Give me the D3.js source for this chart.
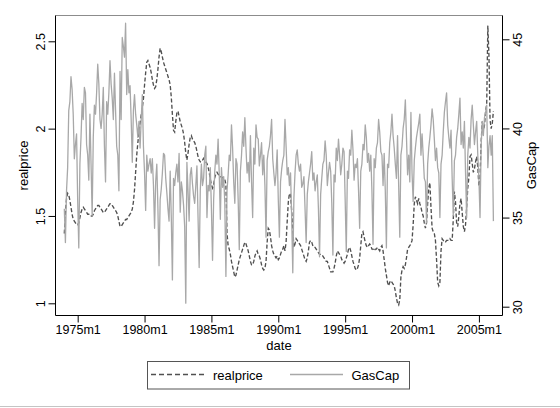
<!DOCTYPE html>
<html>
<head>
<meta charset="utf-8">
<script src="https://d3js.org/d3.v7.min.js"></script>
<style>
body { margin: 0; background: #fff; }
text { font-family: "Liberation Sans", Arial, Helvetica, sans-serif; fill: #000; }
</style>
</head>
<body>
<div id="chart"></div>
<script>

var width = 560;
var height = 408;

// monthly series, first observation 1974m1, last 2006m2
var startYear = 1974;

var realprice = [
  1.40, 1.52, 1.60, 1.63, 1.62, 1.59, 1.55, 1.51, 1.48, 1.47, 1.46, 1.45, // 1974
  1.45, 1.46, 1.49, 1.52, 1.54, 1.55, 1.54, 1.53, 1.52, 1.51, 1.51, 1.50, // 1975
  1.50, 1.50, 1.51, 1.53, 1.54, 1.55, 1.56, 1.56, 1.55, 1.54, 1.53, 1.52, // 1976
  1.52, 1.53, 1.54, 1.55, 1.56, 1.57, 1.57, 1.56, 1.55, 1.54, 1.53, 1.52, // 1977
  1.50, 1.47, 1.44, 1.44, 1.45, 1.46, 1.47, 1.48, 1.48, 1.49, 1.50, 1.51, // 1978
  1.52, 1.54, 1.58, 1.65, 1.75, 1.85, 1.92, 1.98, 2.03, 2.08, 2.12, 2.17, // 1979
  2.25, 2.32, 2.38, 2.39, 2.37, 2.35, 2.32, 2.28, 2.25, 2.23, 2.24, 2.28, // 1980
  2.34, 2.41, 2.46, 2.44, 2.41, 2.38, 2.36, 2.34, 2.32, 2.30, 2.28, 2.25, // 1981
  2.18, 2.08, 1.99, 1.98, 2.04, 2.09, 2.10, 2.07, 2.04, 2.02, 2.00, 1.97, // 1982
  1.92, 1.86, 1.82, 1.86, 1.91, 1.95, 1.96, 1.94, 1.93, 1.92, 1.90, 1.87, // 1983
  1.84, 1.82, 1.81, 1.82, 1.82, 1.83, 1.82, 1.81, 1.80, 1.78, 1.75, 1.71, // 1984
  1.68, 1.66, 1.68, 1.72, 1.74, 1.75, 1.74, 1.73, 1.73, 1.72, 1.72, 1.71, // 1985
  1.71, 1.68, 1.40, 1.33, 1.31, 1.28, 1.24, 1.21, 1.18, 1.15, 1.16, 1.19, // 1986
  1.22, 1.25, 1.27, 1.29, 1.31, 1.33, 1.35, 1.34, 1.32, 1.30, 1.27, 1.24, // 1987
  1.22, 1.22, 1.24, 1.27, 1.29, 1.30, 1.28, 1.27, 1.25, 1.22, 1.20, 1.19, // 1988
  1.20, 1.24, 1.35, 1.43, 1.42, 1.38, 1.33, 1.30, 1.28, 1.27, 1.26, 1.27, // 1989
  1.25, 1.26, 1.28, 1.30, 1.31, 1.33, 1.30, 1.35, 1.47, 1.58, 1.63, 1.62, // 1990
  1.53, 1.42, 1.32, 1.34, 1.37, 1.36, 1.35, 1.34, 1.33, 1.31, 1.29, 1.27, // 1991
  1.25, 1.24, 1.26, 1.30, 1.35, 1.36, 1.35, 1.33, 1.32, 1.32, 1.31, 1.30, // 1992
  1.29, 1.28, 1.28, 1.28, 1.27, 1.26, 1.25, 1.24, 1.24, 1.22, 1.20, 1.18, // 1993
  1.18, 1.18, 1.20, 1.23, 1.27, 1.30, 1.29, 1.28, 1.27, 1.25, 1.24, 1.23, // 1994
  1.24, 1.26, 1.28, 1.31, 1.32, 1.30, 1.27, 1.24, 1.22, 1.20, 1.19, 1.20, // 1995
  1.22, 1.26, 1.33, 1.40, 1.41, 1.38, 1.35, 1.33, 1.32, 1.33, 1.34, 1.33, // 1996
  1.31, 1.31, 1.30, 1.31, 1.31, 1.32, 1.31, 1.30, 1.32, 1.33, 1.30, 1.25, // 1997
  1.20, 1.16, 1.12, 1.10, 1.12, 1.13, 1.12, 1.11, 1.10, 1.07, 1.03, 1.00, // 1998
  0.99, 1.02, 1.15, 1.19, 1.21, 1.20, 1.22, 1.26, 1.31, 1.32, 1.33, 1.34, // 1999
  1.36, 1.45, 1.57, 1.61, 1.59, 1.57, 1.60, 1.57, 1.55, 1.52, 1.50, 1.46, // 2000
  1.43, 1.46, 1.57, 1.66, 1.69, 1.55, 1.43, 1.41, 1.40, 1.36, 1.25, 1.12, // 2001
  1.10, 1.12, 1.30, 1.37, 1.36, 1.35, 1.35, 1.36, 1.36, 1.36, 1.37, 1.36, // 2002
  1.36, 1.48, 1.64, 1.58, 1.46, 1.44, 1.50, 1.57, 1.60, 1.52, 1.44, 1.41, // 2003
  1.45, 1.55, 1.66, 1.72, 1.84, 1.85, 1.80, 1.75, 1.77, 1.81, 1.84, 1.78, // 2004
  1.67, 1.72, 1.92, 2.04, 1.99, 2.02, 2.10, 2.14, 2.59, 2.42, 2.05, 2.00, // 2005
  2.03, 2.10                                                              // 2006
];

var gascap = [
  35.5, 33.6, 36.5, 37.8, 41.0, 41.5, 42.9, 42.2, 40.8, 38.3, 39.1, 39.7, // 1974
  36.0, 33.3, 38.0, 39.5, 41.4, 40.5, 42.3, 42.0, 39.1, 38.5, 37.1, 40.8, // 1975
  38.0, 35.1, 39.5, 41.3, 40.8, 42.0, 43.6, 42.5, 40.5, 40.0, 40.8, 42.3, // 1976
  39.0, 37.0, 41.5, 40.8, 42.0, 43.8, 42.5, 41.7, 40.5, 43.1, 41.0, 39.0, // 1977
  38.5, 36.5, 43.2, 40.5, 45.1, 44.6, 44.0, 45.9, 41.9, 43.3, 42.0, 42.4, // 1978
  40.5, 38.1, 41.0, 41.9, 40.8, 40.2, 39.5, 40.4, 38.9, 40.5, 41.9, 39.0, // 1979
  37.5, 35.4, 38.5, 37.6, 38.0, 38.3, 37.5, 38.3, 36.8, 34.4, 37.0, 38.0, // 1980
  35.5, 32.3, 36.0, 36.6, 37.5, 38.6, 38.5, 37.2, 36.4, 35.5, 34.8, 37.6, // 1981
  35.0, 31.5, 37.2, 36.8, 37.5, 38.0, 37.0, 38.6, 35.3, 37.0, 36.5, 35.7, // 1982
  34.5, 30.2, 38.1, 36.5, 34.8, 37.4, 37.8, 36.9, 36.2, 35.8, 36.8, 37.9, // 1983
  35.0, 32.2, 36.5, 38.0, 36.8, 37.2, 38.5, 39.0, 35.0, 36.8, 36.5, 37.8, // 1984
  35.5, 32.6, 36.0, 37.6, 38.5, 38.0, 39.4, 37.5, 34.9, 37.8, 36.7, 37.3, // 1985
  35.8, 31.7, 36.5, 37.4, 38.5, 38.2, 40.2, 38.9, 37.0, 35.8, 38.3, 38.0, // 1986
  36.0, 33.2, 37.6, 38.5, 39.8, 39.0, 40.6, 38.9, 37.5, 38.1, 37.0, 39.6, // 1987
  37.0, 35.0, 38.9, 38.0, 40.2, 39.5, 39.4, 37.9, 38.5, 39.2, 37.4, 38.5, // 1988
  36.8, 33.9, 38.2, 38.7, 39.0, 39.6, 40.5, 38.3, 37.5, 36.8, 37.5, 38.8, // 1989
  36.0, 33.9, 37.0, 37.7, 38.2, 38.5, 40.5, 39.0, 37.4, 37.8, 36.8, 37.5, // 1990
  35.0, 31.9, 36.1, 37.5, 38.5, 38.8, 38.0, 37.6, 38.0, 36.7, 36.9, 37.3, // 1991
  35.5, 33.6, 36.3, 37.0, 37.5, 38.0, 38.7, 37.1, 37.5, 36.5, 37.0, 37.4, // 1992
  35.5, 32.8, 36.3, 37.2, 38.0, 38.2, 39.3, 38.5, 36.8, 37.5, 38.1, 37.6, // 1993
  35.8, 32.9, 37.4, 37.0, 38.9, 38.2, 39.4, 38.5, 37.4, 38.0, 38.9, 38.7, // 1994
  36.0, 33.1, 37.6, 37.2, 38.8, 38.5, 39.9, 38.8, 37.1, 38.0, 37.8, 38.3, // 1995
  36.5, 34.4, 37.6, 38.0, 39.1, 38.8, 40.2, 39.5, 38.1, 38.6, 37.6, 38.5, // 1996
  36.5, 33.5, 38.3, 37.8, 38.9, 39.2, 40.5, 39.8, 38.7, 38.5, 36.8, 38.6, // 1997
  36.5, 33.3, 38.0, 37.8, 39.2, 39.8, 40.8, 39.6, 38.9, 38.0, 37.2, 39.6, // 1998
  36.8, 33.9, 38.5, 39.0, 40.0, 40.5, 41.6, 39.5, 37.4, 38.5, 37.0, 40.9, // 1999
  37.5, 35.9, 38.2, 38.9, 39.5, 39.9, 40.3, 40.8, 38.5, 39.7, 38.5, 37.2, // 2000
  37.0, 34.7, 38.0, 38.9, 39.5, 40.2, 41.1, 40.5, 39.4, 38.2, 38.9, 37.8, // 2001
  37.5, 35.0, 38.0, 38.5, 39.8, 40.9, 41.5, 42.0, 40.2, 39.5, 38.9, 39.9, // 2002
  37.2, 35.1, 38.2, 38.5, 39.5, 40.0, 40.8, 41.7, 39.1, 39.8, 38.9, 40.4, // 2003
  37.5, 35.0, 38.5, 39.5, 38.9, 40.5, 41.3, 40.2, 39.1, 39.8, 40.4, 38.5, // 2004
  37.2, 35.0, 39.0, 40.4, 39.6, 40.6, 40.9, 41.3, 37.8, 39.0, 39.6, 38.5, // 2005
  39.6, 34.8                                                              // 2006
];

var xTickLabels = ["1975m1", "1980m1", "1985m1", "1990m1", "1995m1", "2000m1", "2005m1"];
var leftTicks = [1, 1.5, 2, 2.5];
var rightTicks = [30, 35, 40, 45];

// plot region edges (axis lines sit on these)
var plotLeft = 55.5, plotRight = 502.5, plotTop = 15.5, plotBottom = 315.5;

function monthIndex(label) {
	var parts = label.split("m");
	return (+parts[0] - startYear) * 12 + (+parts[1] - 1);
}

var svg = d3.select("#chart").append("svg")
	.attr("width", width).attr("height", height);

var xScale = d3.scaleLinear().domain([0, realprice.length - 1]).range([64.3, 493.4]);
var yLeft = d3.scaleLinear().domain([1, 2.5]).range([303.3, 41.3]);
var yRight = d3.scaleLinear().domain([30, 45]).range([306.7, 39.3]);

// series: realprice first, GasCap drawn over it
var priceLine = d3.line()
	.x(function(d, i) { return xScale(i); })
	.y(function(d) { return yLeft(d); });

var capLine = d3.line()
	.x(function(d, i) { return xScale(i); })
	.y(function(d) { return yRight(d); });

svg.append("path").datum(realprice)
	.attr("d", priceLine)
	.style("fill", "none")
	.style("stroke", "#505050")
	.style("stroke-width", 1.35)
	.style("stroke-dasharray", "4,2.2");

svg.append("path").datum(gascap)
	.attr("d", capLine)
	.style("fill", "none")
	.style("stroke", "#a8a8a8")
	.style("stroke-width", 1.3)
	.style("stroke-linejoin", "round");

// plot frame: grey on top, black axis lines elsewhere
svg.append("line")
	.attr("x1", plotLeft).attr("x2", plotRight)
	.attr("y1", plotTop).attr("y2", plotTop)
	.style("stroke", "#8c8c8c");

svg.append("line")
	.attr("x1", plotLeft).attr("x2", plotLeft)
	.attr("y1", plotTop).attr("y2", plotBottom)
	.style("stroke", "#000");
svg.append("line")
	.attr("x1", plotRight).attr("x2", plotRight)
	.attr("y1", plotTop).attr("y2", plotBottom)
	.style("stroke", "#000");
svg.append("line")
	.attr("x1", plotLeft).attr("x2", plotRight)
	.attr("y1", plotBottom).attr("y2", plotBottom)
	.style("stroke", "#000");

// axes
var xAxis = d3.axisBottom(xScale)
	.tickValues(xTickLabels.map(monthIndex))
	.tickFormat(function(d, i) { return xTickLabels[i]; })
	.tickSize(7);

var gx = svg.append("g")
	.attr("transform", "translate(0," + plotBottom + ")")
	.call(xAxis);
gx.select(".domain").remove();
gx.selectAll("text").attr("font-size", 12.5).attr("font-family", "Liberation Sans, Arial, sans-serif");

var gl = svg.append("g")
	.attr("transform", "translate(" + plotLeft + ",0)")
	.call(d3.axisLeft(yLeft).tickValues(leftTicks).tickFormat(d3.format("")).tickSize(7));
gl.select(".domain").remove();
gl.selectAll("text")
	.attr("font-size", 12.5).attr("font-family", "Liberation Sans, Arial, sans-serif")
	.attr("transform", "rotate(-90)")
	.attr("x", 0).attr("y", -11).attr("dy", 0)
	.attr("text-anchor", "middle");

var gr = svg.append("g")
	.attr("transform", "translate(" + plotRight + ",0)")
	.call(d3.axisRight(yRight).tickValues(rightTicks).tickSize(7));
gr.select(".domain").remove();
gr.selectAll("text")
	.attr("font-size", 12.5).attr("font-family", "Liberation Sans, Arial, sans-serif")
	.attr("transform", "rotate(-90)")
	.attr("x", 0).attr("y", 19.5).attr("dy", 0)
	.attr("text-anchor", "middle");

// axis titles
svg.append("text")
	.attr("x", (plotLeft + plotRight) / 2).attr("y", 350)
	.attr("text-anchor", "middle")
	.attr("font-size", 13)
	.text("date");

svg.append("text")
	.attr("transform", "translate(28," + (plotTop + plotBottom) / 2 + ") rotate(-90)")
	.attr("text-anchor", "middle")
	.attr("font-size", 13)
	.text("realprice");

svg.append("text")
	.attr("transform", "translate(536," + (plotTop + plotBottom) / 2 + ") rotate(-90)")
	.attr("text-anchor", "middle")
	.attr("font-size", 13)
	.text("GasCap");

// legend
var legend = svg.append("g");
legend.append("rect")
	.attr("x", 147.5).attr("y", 361.5)
	.attr("width", 262).attr("height", 27.5)
	.style("fill", "#fff").style("stroke", "#555");

legend.append("line")
	.attr("x1", 151).attr("x2", 207).attr("y1", 374.5).attr("y2", 374.5)
	.style("stroke", "#505050").style("stroke-width", 1.3)
	.style("stroke-dasharray", "5,3");
legend.append("text")
	.attr("x", 213).attr("y", 379.5)
	.attr("font-size", 13)
	.text("realprice");

legend.append("line")
	.attr("x1", 290).attr("x2", 343).attr("y1", 374.5).attr("y2", 374.5)
	.style("stroke", "#a8a8a8").style("stroke-width", 1.3);
legend.append("text")
	.attr("x", 351.5).attr("y", 379.5)
	.attr("font-size", 13)
	.text("GasCap");

// thin rule along the bottom edge of the image
svg.append("line")
	.attr("x1", 0).attr("x2", width)
	.attr("y1", 406.5).attr("y2", 406.5)
	.style("stroke", "#c4c4c4");

</script>
</body>
</html>
